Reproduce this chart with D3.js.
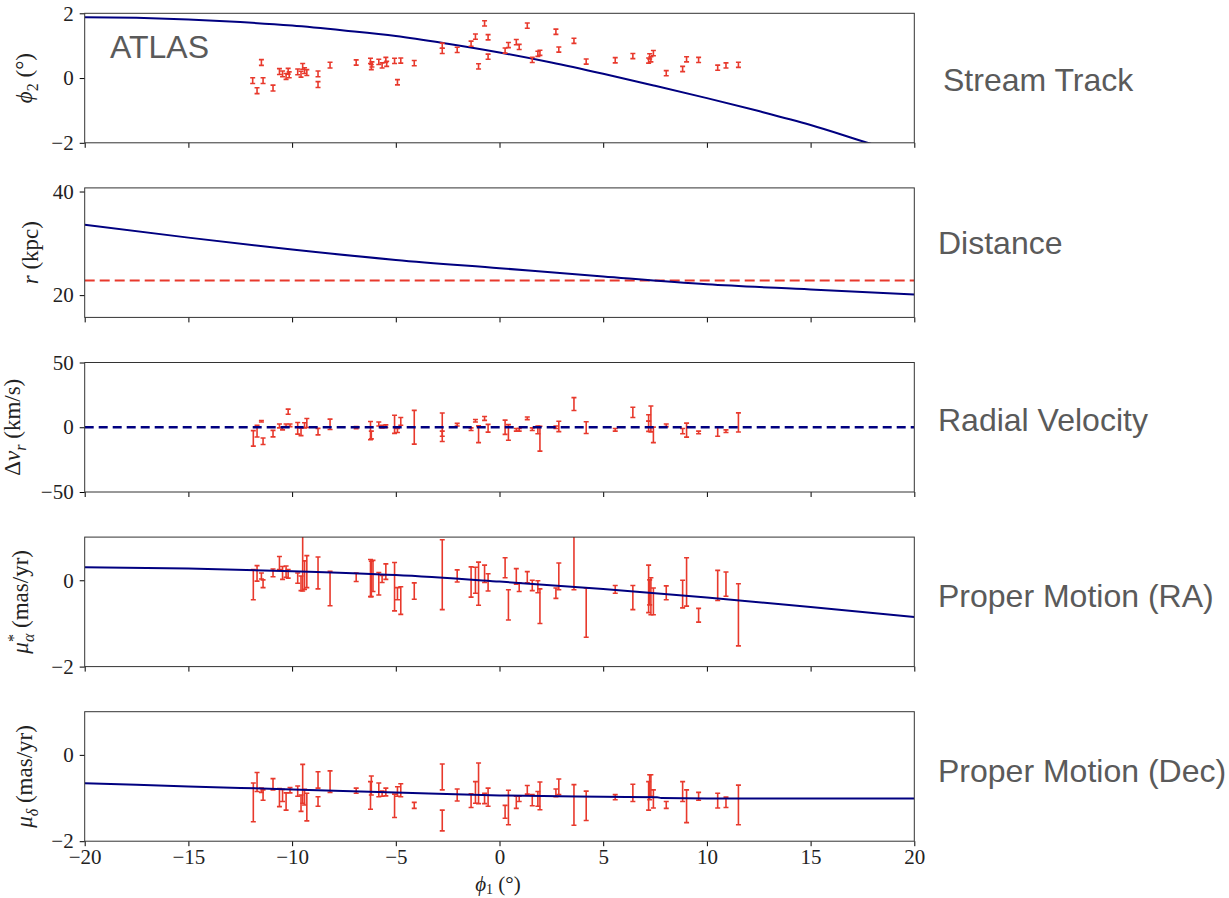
<!DOCTYPE html>
<html>
<head>
<meta charset="utf-8">
<script src="https://cdn.jsdelivr.net/npm/d3@7"></script>
<style>
  body { margin: 0; background: #fff; }
  svg { display: block; }
  .tick text { font-family: "Liberation Serif", "DejaVu Serif", serif; font-size: 21px; fill: #222; }
  .side { font-family: "Liberation Sans", Arial, sans-serif; font-size: 32px; fill: #5a5a5a; }
</style>
</head>
<body>
<svg id="chart" width="1229" height="898"></svg>
<script>
// ---- data ----
const xTicks = [-20, -15, -10, -5, 0, 5, 10, 15, 20];

// model track  phi1 -> phi2
const trackPhi1 = [-20, -17.5, -15, -12.5, -10, -7.5, -5, -2.5, 0, 2.5, 5, 7.5, 10, 12.5, 15, 17.5, 20];
const trackPhi2 = [1.88, 1.86, 1.81, 1.73, 1.62, 1.47, 1.30, 1.06, 0.79, 0.48, 0.13, -0.24, -0.62, -1.02, -1.45, -1.95, -2.45];

// stars: [phi1, phi2, err]
const starsPhi2 = [
  [-11.9, -0.08, 0.09], [-11.69, -0.39, 0.09], [-11.48, 0.48, 0.09], [-11.4, -0.08, 0.09],
  [-10.92, -0.31, 0.09], [-10.61, 0.20, 0.09], [-10.46, 0.13, 0.09], [-10.29, 0.05, 0.09],
  [-10.19, 0.21, 0.09], [-10.14, 0.10, 0.09], [-9.73, 0.19, 0.09], [-9.57, 0.12, 0.09],
  [-9.49, 0.36, 0.09], [-9.4, 0.23, 0.09], [-9.29, 0.17, 0.09], [-8.75, 0.13, 0.09],
  [-8.75, -0.20, 0.09], [-8.17, 0.40, 0.09], [-6.91, 0.48, 0.08], [-6.22, 0.53, 0.08],
  [-6.18, 0.34, 0.08], [-6.15, 0.42, 0.08], [-5.82, 0.50, 0.08], [-5.66, 0.39, 0.08],
  [-5.48, 0.56, 0.08], [-5.44, 0.44, 0.08], [-5.06, 0.53, 0.08], [-4.92, -0.13, 0.08],
  [-4.76, 0.54, 0.08], [-4.11, 0.46, 0.08], [-2.76, 1.00, 0.08], [-2.76, 0.84, 0.08],
  [-2.04, 0.87, 0.08], [-1.37, 1.06, 0.08], [-1.16, 1.28, 0.08], [-1.01, 0.36, 0.08],
  [-0.72, 1.69, 0.08], [-0.55, 1.26, 0.08], [-0.55, 0.66, 0.08], [0.27, 0.85, 0.08],
  [0.43, 1.02, 0.08], [0.81, 1.11, 0.08], [0.95, 0.96, 0.08], [1.34, 1.62, 0.08],
  [1.58, 0.56, 0.08], [1.85, 0.75, 0.08], [1.95, 0.78, 0.08], [2.72, 1.43, 0.08],
  [2.86, 0.88, 0.08], [3.59, 1.15, 0.08], [4.18, 0.51, 0.08], [5.58, 0.55, 0.08],
  [6.43, 0.68, 0.08], [7.19, 0.54, 0.08], [7.24, 0.67, 0.08], [7.3, 0.58, 0.08],
  [7.42, 0.77, 0.08], [8.04, 0.15, 0.08], [8.83, 0.28, 0.08], [9.02, 0.58, 0.08],
  [9.6, 0.56, 0.08], [10.52, 0.32, 0.08], [10.92, 0.39, 0.08], [11.52, 0.41, 0.08]
];

// distance model and observed mean distance
const distPhi1 = [-20, -15, -10, -5, 0, 5, 10, 15, 20];
const distR = [33.6, 31.1, 28.8, 26.8, 25.2, 23.6, 22.1, 21.1, 20.1];
const distObs = 22.8;

// radial velocity residuals: [phi1, dv, err]
const starsRv = [
  [-11.87, -8.6, 6], [-11.69, -3, 4.5], [-11.48, 4.6, 0.6], [-11.4, -10.8, 2.5],
  [-10.92, -4.9, 2.5], [-10.61, 1.0, 1.5], [-10.46, -1.0, 1.0], [-10.29, 1.5, 1.0],
  [-10.19, 12.0, 2.0], [-10.1, 1.5, 1.0], [-9.73, -0.8, 4.5], [-9.57, -3.5, 3],
  [-9.4, 1.5, 2], [-9.29, 3.3, 3.5], [-8.75, -3.4, 2.5], [-8.17, 2.3, 4],
  [-6.91, -0.3, 0.8], [-6.22, -2.6, 7], [-6.18, -6, 3], [-5.82, 2.5, 1.5],
  [-5.66, 0.5, 1], [-5.48, 0.8, 1], [-5.06, 2.3, 7], [-4.92, -2.5, 1.5],
  [-4.76, 4.5, 3], [-4.11, 0, 13], [-2.76, 0, 11], [-2.76, -5, 2],
  [-2.04, 2, 1], [-1.37, -1.5, 1], [-1.16, 5, 1], [-1.01, -5.4, 6.5],
  [-0.72, 6.8, 1.5], [-0.55, -0.8, 3], [0.27, 0, 5.5], [0.43, -4, 6],
  [0.81, -2, 1], [0.95, -2, 1], [1.34, 6.9, 1], [1.58, -1.5, 1],
  [1.85, -2, 3], [1.95, -8.8, 9.6], [2.72, 0, 1], [2.86, 0.6, 4],
  [3.59, 17.9, 5], [4.18, -0.3, 4.5], [5.58, -2, 1], [6.43, 11.5, 4],
  [7.19, 7.1, 2.5], [7.19, 0.8, 4], [7.3, 6.4, 10], [7.42, -5.9, 6],
  [8.04, 1.5, 1], [8.83, -3, 2], [9.02, -2.2, 5.4], [9.6, -4, 1],
  [10.52, -3.3, 3.6], [10.92, -3, 1], [11.52, 3.7, 7.4]
];

// proper motion RA model + stars
const pmraPhi1 = [-20, -15, -10, -5, 0, 5, 10, 15, 20];
const pmraModel = [0.30, 0.27, 0.21, 0.12, -0.03, -0.20, -0.40, -0.62, -0.85];
const starsPmra = [
  [-11.87, -0.10, 0.35], [-11.69, 0.16, 0.18], [-11.48, 0.10, 0.07], [-11.4, -0.08, 0.09],
  [-10.92, 0.17, 0.09], [-10.61, 0.40, 0.15], [-10.46, 0.17, 0.15], [-10.29, 0.20, 0.13],
  [-10.19, 0.15, 0.10], [-9.73, 0.05, 0.12], [-9.57, -0.07, 0.17], [-9.49, 0.39, 0.64],
  [-9.4, 0.12, 0.33], [-9.29, 0.20, 0.37], [-8.75, 0.17, 0.37], [-8.17, -0.19, 0.40],
  [-6.91, 0.07, 0.10], [-6.22, 0.05, 0.43], [-6.18, 0.03, 0.41], [-6.1, 0.10, 0.36],
  [-5.82, -0.08, 0.26], [-5.66, 0.03, 0.08], [-5.48, 0.20, 0.18], [-5.06, -0.15, 0.56],
  [-4.92, -0.31, 0.14], [-4.76, -0.47, 0.32], [-4.11, -0.25, 0.19], [-2.76, 0.13, 0.81],
  [-2.04, 0.10, 0.14], [-1.37, -0.04, 0.35], [-1.16, 0.0, 0.30], [-1.01, -0.08, 0.50],
  [-0.72, 0.15, 0.20], [-0.55, -0.05, 0.20], [0.27, 0.29, 0.23], [0.43, -0.57, 0.35],
  [0.81, 0.09, 0.18], [0.95, -0.16, 0.10], [1.34, 0.07, 0.13], [1.58, -0.12, 0.12],
  [1.85, -0.15, 0.14], [1.95, -0.60, 0.40], [2.72, -0.30, 0.12], [2.86, 0.09, 0.31],
  [3.59, 0.40, 0.62], [4.18, -0.75, 0.57], [5.58, -0.21, 0.09], [6.43, -0.40, 0.28],
  [7.19, -0.20, 0.55], [7.24, -0.28, 0.29], [7.3, -0.37, 0.43], [7.42, -0.49, 0.31],
  [8.04, -0.29, 0.16], [8.83, -0.32, 0.32], [9.02, -0.04, 0.56], [9.6, -0.81, 0.16],
  [10.52, -0.12, 0.35], [10.92, -0.09, 0.28], [11.52, -0.80, 0.72]
];

// proper motion Dec model + stars
const pmdecPhi1 = [-20, -15, -10, -5, 0, 5, 7.6, 7.8, 10, 15, 20];
const pmdecModel = [-0.66, -0.73, -0.80, -0.87, -0.94, -0.97, -0.98, -1.00, -1.01, -1.01, -1.01];
const starsPmdec = [
  [-11.87, -1.10, 0.45], [-11.69, -0.63, 0.22], [-11.48, -0.82, 0.05], [-11.4, -0.93, 0.12],
  [-10.92, -0.68, 0.13], [-10.61, -0.99, 0.21], [-10.46, -0.94, 0.14], [-10.29, -1.08, 0.20],
  [-10.1, -0.82, 0.06], [-9.73, -0.84, 0.12], [-9.57, -1.12, 0.19], [-9.49, -0.67, 0.45],
  [-9.4, -0.98, 0.18], [-9.29, -1.21, 0.32], [-8.75, -0.58, 0.19], [-8.75, -1.08, 0.11],
  [-8.17, -0.62, 0.25], [-6.91, -0.83, 0.06], [-6.22, -0.94, 0.32], [-6.18, -0.71, 0.22],
  [-5.82, -0.81, 0.16], [-5.66, -0.90, 0.06], [-5.48, -0.86, 0.09], [-5.06, -1.18, 0.27],
  [-4.92, -0.85, 0.11], [-4.76, -0.82, 0.15], [-4.11, -1.17, 0.07], [-2.76, -0.51, 0.30],
  [-2.76, -1.52, 0.24], [-2.04, -0.93, 0.14], [-1.37, -1.06, 0.16], [-1.16, -0.87, 0.25],
  [-1.01, -0.66, 0.47], [-0.72, -1.01, 0.12], [-0.55, -0.98, 0.21], [0.27, -1.32, 0.15],
  [0.43, -1.22, 0.40], [0.81, -1.10, 0.14], [0.95, -1.02, 0.06], [1.34, -0.81, 0.10],
  [1.58, -1.05, 0.13], [1.85, -1.02, 0.17], [1.95, -0.95, 0.32], [2.72, -0.88, 0.09],
  [2.86, -0.74, 0.18], [3.59, -1.16, 0.47], [4.18, -1.18, 0.34], [5.58, -0.98, 0.06],
  [6.43, -0.88, 0.20], [7.19, -0.95, 0.33], [7.24, -0.75, 0.29], [7.3, -0.71, 0.25],
  [7.42, -1.02, 0.21], [8.04, -1.16, 0.08], [8.83, -0.85, 0.23], [9.02, -1.19, 0.38],
  [9.6, -0.96, 0.09], [10.52, -1.06, 0.17], [10.92, -1.10, 0.12], [11.52, -1.16, 0.46]
];

const sideLabels = ['Stream Track', 'Distance', 'Radial Velocity', 'Proper Motion (RA)', 'Proper Motion (Dec)'];

// ---- layout ----
const navy = '#000080';
const red = '#e8392c';
const left = 84.7, right = 914.3;
const panelH = 129.5, panelStep = 174.6, firstTop = 13.3;
const serif = '"Liberation Serif", "DejaVu Serif", serif';

const svg = d3.select('#chart');
svg.append('rect').attr('width', 1229).attr('height', 898).attr('fill', '#fff');

const xScale = d3.scaleLinear().domain([-20, 20]).range([left, right]);
const fmt = d => d < 0 ? '\u2212' + Math.abs(d) : String(d);

const panels = [
  { domain: [-2, 2], ticks: [-2, 0, 2], labelX: 32,
    label: [{ t: '\u03d5', i: true }, { t: '2', s: 'sub' }, { t: ' (\u00b0)' }] },
  { domain: [15.7, 40.7], ticks: [20, 40], labelX: 38,
    label: [{ t: 'r', i: true }, { t: ' (kpc)' }] },
  { domain: [-50, 50], ticks: [-50, 0, 50], labelX: 20,
    label: [{ t: '\u0394' }, { t: 'v', i: true }, { t: 'r', i: true, s: 'sub' }, { t: ' (km/s)' }] },
  { domain: [-2, 1], ticks: [-2, 0], labelX: 28,
    label: [{ t: '\u03bc', i: true }, { t: '*', s: 'sup' }, { t: '\u03b1', i: true, s: 'sub', dx: -8 }, { t: ' (mas/yr)' }] },
  { domain: [-2, 1], ticks: [-2, 0], labelX: 32,
    label: [{ t: '\u03bc', i: true }, { t: '\u03b4', i: true, s: 'sub' }, { t: ' (mas/yr)' }] }
];

const defs = svg.append('defs');

panels.forEach((p, i) => {
  const top = firstTop + i * panelStep;
  const bottom = top + panelH;
  p.top = top; p.bottom = bottom;
  p.y = d3.scaleLinear().domain(p.domain).range([bottom, top]);

  defs.append('clipPath').attr('id', 'clip' + i)
    .append('rect').attr('x', left).attr('y', top).attr('width', right - left).attr('height', panelH);

  p.g = svg.append('g');
  p.plot = p.g.append('g').attr('clip-path', `url(#clip${i})`);

  // x axis
  const xAxis = d3.axisBottom(xScale).tickValues(xTicks).tickSize(5).tickPadding(3)
    .tickFormat(i === 4 ? fmt : '');
  p.g.append('g').attr('transform', `translate(0,${bottom})`).call(xAxis)
    .call(g => g.select('.domain').remove());

  // y axis
  const yAxis = d3.axisLeft(p.y).tickValues(p.ticks).tickSize(5).tickPadding(6).tickFormat(fmt);
  p.g.append('g').attr('transform', `translate(${left},0)`).call(yAxis)
    .call(g => g.select('.domain').remove());

  // y label
  const lab = p.g.append('text')
    .attr('transform', `translate(${p.labelX},${(top + bottom) / 2}) rotate(-90)`)
    .attr('text-anchor', 'middle')
    .attr('dy', '0.35em')
    .style('font-family', serif)
    .style('font-size', '23px')
    .attr('fill', '#222');
  let prev = 0;
  p.label.forEach(part => {
    const shift = part.s === 'sub' ? 6 : part.s === 'sup' ? -9 : 0;
    const ts = lab.append('tspan').text(part.t)
      .attr('dy', shift - prev)
      .style('font-style', part.i ? 'italic' : 'normal')
      .style('font-size', part.s ? '16px' : '23px');
    if (part.dx) ts.attr('dx', part.dx);
    prev = shift;
  });

  // side label
  svg.append('text').attr('class', 'side')
    .attr('x', i === 0 ? 943 : 938)
    .attr('y', [91, 254, 431, 607, 782][i])
    .text(sideLabels[i]);
});

// frames drawn after data
function frame(p) {
  p.g.append('rect').attr('x', left).attr('y', p.top)
    .attr('width', right - left).attr('height', panelH)
    .attr('fill', 'none').attr('stroke', '#333').attr('stroke-width', 1);
}

function errorBars(plot, y, data) {
  const g = plot.append('g').attr('stroke', red).attr('stroke-width', 1.6).attr('fill', 'none');
  data.forEach(([x, v, e]) => {
    const px = xScale(x), y0 = y(v - e), y1 = y(v + e);
    g.append('line').attr('x1', px).attr('x2', px).attr('y1', y0).attr('y2', y1);
    g.append('line').attr('x1', px - 2.5).attr('x2', px + 2.5).attr('y1', y0).attr('y2', y0);
    g.append('line').attr('x1', px - 2.5).attr('x2', px + 2.5).attr('y1', y1).attr('y2', y1);
  });
}

function modelLine(plot, y, xs, ys, dashed) {
  const line = d3.line().x(d => xScale(d[0])).y(d => y(d[1])).curve(d3.curveMonotoneX);
  plot.append('path').datum(xs.map((x, k) => [x, ys[k]]))
    .attr('d', line).attr('fill', 'none').attr('stroke', navy)
    .attr('stroke-width', dashed ? 2.4 : 2)
    .attr('stroke-dasharray', dashed ? '9,5' : null);
}

// panel 1: stream track
const p1 = panels[0];
modelLine(p1.plot, p1.y, trackPhi1, trackPhi2);
errorBars(p1.plot, p1.y, starsPhi2);
p1.g.append('text').attr('class', 'side').attr('x', 110).attr('y', 58).text('ATLAS');

// panel 2: distance
const p2 = panels[1];
p2.plot.append('line').attr('x1', left).attr('x2', right)
  .attr('y1', p2.y(distObs)).attr('y2', p2.y(distObs))
  .attr('stroke', red).attr('stroke-width', 2).attr('stroke-dasharray', '10,5');
modelLine(p2.plot, p2.y, distPhi1, distR);

// panel 3: radial velocity
const p3 = panels[2];
errorBars(p3.plot, p3.y, starsRv);
modelLine(p3.plot, p3.y, [-20, 20], [0, 0], true);

// panel 4: pm RA
const p4 = panels[3];
errorBars(p4.plot, p4.y, starsPmra);
modelLine(p4.plot, p4.y, pmraPhi1, pmraModel);

// panel 5: pm Dec
const p5 = panels[4];
errorBars(p5.plot, p5.y, starsPmdec);
modelLine(p5.plot, p5.y, pmdecPhi1, pmdecModel);

panels.forEach(frame);

// x label
const xl = svg.append('text')
  .attr('x', 498).attr('y', 891).attr('text-anchor', 'middle')
  .style('font-family', serif)
  .style('font-size', '21px').attr('fill', '#222');
xl.append('tspan').text('\u03d5').style('font-style', 'italic');
xl.append('tspan').text('1').attr('dy', 3).style('font-size', '14px');
xl.append('tspan').text(' (\u00b0)').attr('dy', -3);
</script>
</body>
</html>
